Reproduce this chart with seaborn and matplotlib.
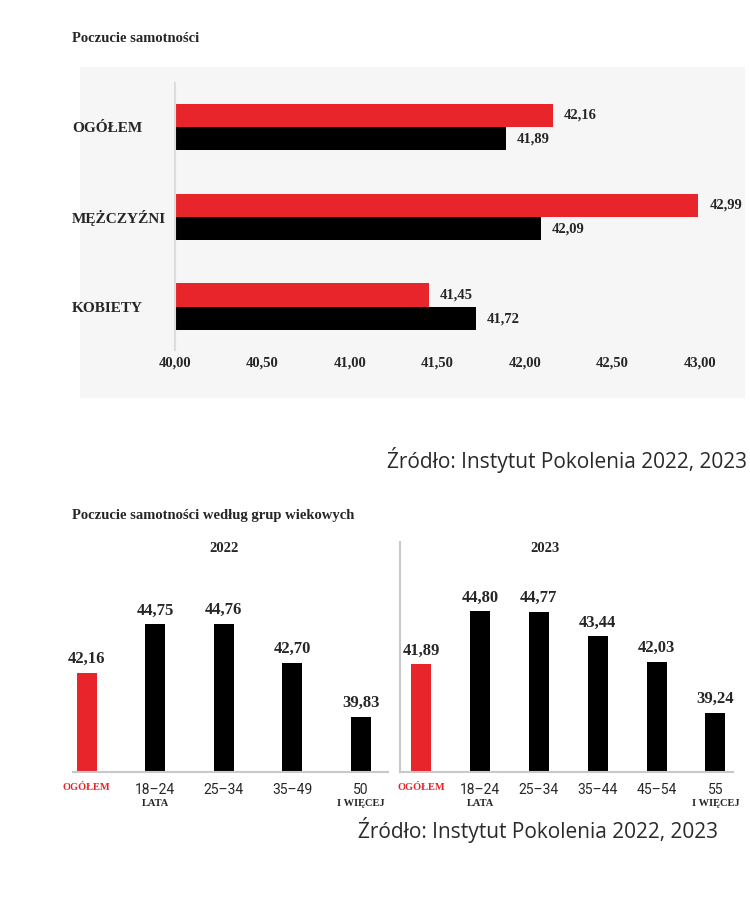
import numpy as np
import pandas as pd
import matplotlib
matplotlib.use("Agg")
import matplotlib.pyplot as plt
import matplotlib.transforms as mtransforms
from matplotlib.patches import Rectangle
import seaborn as sns

# ---- data ----
groups = ['OGÓŁEM', 'MĘŻCZYŹNI', 'KOBIETY']
years = ['2022', '2023']
vals_2022 = [42.16, 42.99, 41.45]
vals_2023 = [41.89, 42.09, 41.72]
x_ticks = [40.0, 40.5, 41.0, 41.5, 42.0, 42.5, 43.0]

age_2022 = ['OGÓŁEM', '18–24', '25–34', '35–49', '50']
age_2022_sub = ['', 'LATA', '', '', 'I WIĘCEJ']
age_vals_2022 = [42.16, 44.75, 44.76, 42.70, 39.83]

age_2023 = ['OGÓŁEM', '18–24', '25–34', '35–44', '45–54', '55']
age_2023_sub = ['', 'LATA', '', '', '', 'I WIĘCEJ']
age_vals_2023 = [41.89, 44.80, 44.77, 43.44, 42.03, 39.24]

source = 'Źródło: Instytut Pokolenia 2022, 2023'

RED = '#e8252b'
SERIF = 'Liberation Serif'
SANS = 'Open Sans'

def pl(v):
    return f'{v:.2f}'.replace('.', ',')

sns.set_style('white')
plt.rcParams['font.family'] = [SERIF, 'DejaVu Serif']

W, H = 750, 898
fig = plt.figure(figsize=(7.5, 8.98), dpi=100)

def fx(px):
    return px / W

def fy(py):
    return 1 - py / H

# ==========================================
# Top chart: horizontal bars
# ==========================================
fig.patches.append(Rectangle((fx(80), fy(398)), fx(665), 331 / H,
                             transform=fig.transFigure, facecolor='#f6f6f6',
                             edgecolor='none', zorder=-10))
fig.text(fx(72), fy(38), 'Poczucie samotności', fontsize=10.5,
         fontweight='bold', va='center', ha='left')

ax1 = fig.add_axes([fx(175), fy(350), fx(525), 267 / H])
ax1.set_facecolor('none')
df_top = pd.DataFrame({
    'grupa': groups * 2,
    'rok': [years[0]] * 3 + [years[1]] * 3,
    'wartosc': vals_2022 + vals_2023,
})
sns.barplot(data=df_top, y='grupa', x='wartosc', hue='rok', orient='h',
            palette=[RED, 'black'], width=0.52, gap=0, ax=ax1, legend=False,
            saturation=1, linewidth=0)
ax1.set_xlim(40, 43)
ax1.set_ylim(2.48, -0.49)
ax1.set_xticks(x_ticks)
ax1.set_xticklabels([pl(t) for t in x_ticks], fontsize=10.5, fontweight='bold')
ax1.set_yticks(range(len(groups)))
ax1.set_yticklabels(groups, fontsize=11, fontweight='bold', ha='left')
ax1.tick_params(axis='y', length=0, pad=74)
ax1.tick_params(axis='x', length=0, pad=5)
ax1.set_xlabel('')
ax1.set_ylabel('')
for s in ['top', 'right', 'bottom']:
    ax1.spines[s].set_visible(False)
ax1.spines['left'].set_color('#dddddd')
ax1.spines['left'].set_linewidth(1.5)
for cont, vals in zip(ax1.containers, [vals_2022, vals_2023]):
    ax1.bar_label(cont, labels=[pl(v) for v in vals], padding=8,
                  fontsize=10.5, fontweight='bold', clip_on=False)

fig.text(fx(747), fy(460), source, fontsize=15, family=SANS,
         color='#2a2a2a', ha='right', va='center')

# ==========================================
# Bottom chart: age groups
# ==========================================
fig.text(fx(72), fy(516), 'Poczucie samotności według grup wiekowych',
         fontsize=10.5, fontweight='bold', va='center', ha='left')

ax2 = fig.add_axes([fx(73), fy(772), fx(315), 230 / H])
ax3 = fig.add_axes([fx(400), fy(772), fx(333), 230 / H])

panels = [
    (ax2, age_2022, age_2022_sub, age_vals_2022, '2022', 0.29, (-0.2, 4.4), (36.9, 49.1)),
    (ax3, age_2023, age_2023_sub, age_vals_2023, '2023', 0.34, (-0.36, 5.3), (36.0, 48.6)),
]
for ax, cats, subs, vals, year, bw, xl, yl in panels:
    d = pd.DataFrame({'grupa': cats, 'wartosc': vals})
    pal = {c: (RED if i == 0 else 'black') for i, c in enumerate(cats)}
    sns.barplot(data=d, x='grupa', y='wartosc', hue='grupa', palette=pal,
                width=bw, ax=ax, legend=False, saturation=1, linewidth=0)
    ax.set_xlim(*xl)
    ax.set_ylim(*yl)
    ax.set_yticks([])
    ax.set_xlabel('')
    ax.set_ylabel('')
    for s in ['top', 'right']:
        ax.spines[s].set_visible(False)
    ax.spines['left'].set_visible(ax is ax3)
    ax.spines['left'].set_color('#c8c8c8')
    ax.spines['left'].set_linewidth(1.5)
    ax.spines['bottom'].set_color('#c8c8c8')
    ax.spines['bottom'].set_linewidth(1.5)
    ax.set_facecolor('none')
    ax.tick_params(axis='x', length=0, pad=8)
    ax.set_xticks(range(len(cats)))
    ax.set_xticklabels(cats, family='Roboto', fontsize=10)
    lab0 = ax.get_xticklabels()[0]
    lab0.set_color(RED)
    lab0.set_family(SERIF)
    lab0.set_fontweight('bold')
    lab0.set_fontsize(7.5)
    trans = mtransforms.blended_transform_factory(ax.transData, ax.transAxes)
    for i, s in enumerate(subs):
        if s:
            ax.text(i, -0.135, s, transform=trans, ha='center', va='center',
                    fontsize=7.5, fontweight='bold')
    for cont in ax.containers:
        ax.bar_label(cont, labels=[pl(b.get_height()) for b in cont],
                     padding=4, fontsize=12, fontweight='bold')
    ax.text(0.48 if ax is ax2 else 0.435, 0.97, year, transform=ax.transAxes,
            ha='center', va='center', fontsize=10.5, fontweight='bold')

fig.text(fx(718), fy(830), source, fontsize=15, family=SANS,
         color='#2a2a2a', ha='right', va='center')

fig.savefig('out.png', dpi=100)
